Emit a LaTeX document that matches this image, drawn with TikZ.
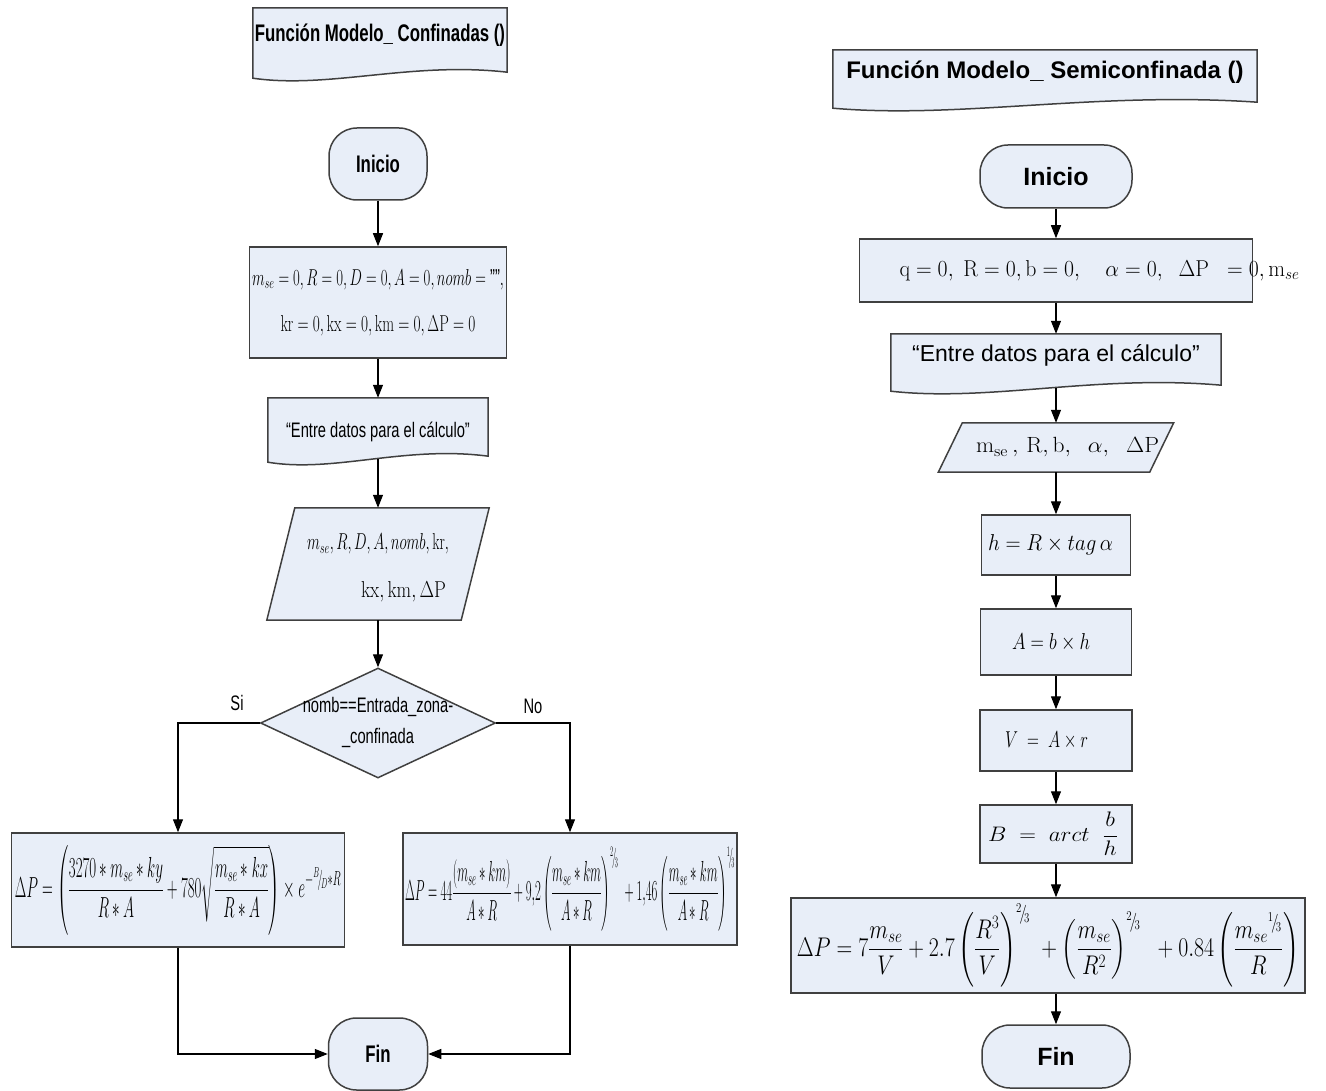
\RequirePackage{fix-cm}
\documentclass[tikz,border=0pt]{standalone}
\usepackage{amsmath}
\usepackage{graphicx}
\usepackage[no-math]{fontspec}
\setmainfont{Liberation Sans}
\newfontfamily\narrowsf[FakeStretch=0.7]{Liberation Sans}
\usetikzlibrary{shapes.geometric, arrows.meta, calc}
\definecolor{boxfill}{RGB}{232,238,248}
\definecolor{edgegray}{RGB}{64,64,64}
\pgfdeclarelayer{bg}
\pgfsetlayers{bg,main}
\newcommand{\hfit}[2]{\resizebox{#1}{\height}{#2}}
\newcommand{\slfrac}[2]{{}^{#1}\!/\!{}_{#2}}
% wavy document outline round a node
\newcommand{\docshape}[1]{%
  \begin{pgfonlayer}{bg}
    \path[flow] (#1.north west) -- (#1.north east) -- ($(#1.south east)+(0,3)$)
      .. controls ($(#1.south west)!0.62!(#1.south east)+(0,14)$)
      and ($(#1.south west)!0.3!(#1.south east)+(0,-14)$)
      .. ($(#1.south west)+(0,-3)$) -- cycle;
  \end{pgfonlayer}}
% slanted data outline round a node
\newcommand{\datashape}[2]{%
  \begin{pgfonlayer}{bg}
    \path[flow] (#1.south west) -- ($(#1.north west)+(#2,0)$) -- (#1.north east)
      -- ($(#1.south east)+(-#2,0)$) -- cycle;
  \end{pgfonlayer}}
\tikzset{
  flow/.style={draw=edgegray, line width=1.5pt, fill=boxfill},
  term/.style={flow, rectangle, rounded corners=28pt, inner sep=0pt},
  proc/.style={flow, rectangle, inner sep=0pt},
  docbox/.style={rectangle, inner sep=0pt},
  decis/.style={flow, diamond, inner sep=0pt},
  arr/.style={draw=black, line width=1.2pt, -{Triangle[length=13pt,width=10pt]}},
  narrowtxt/.style={font=\narrowsf\fontsize{21}{25}\selectfont},
  narrowbold/.style={font=\narrowsf\bfseries\fontsize{24}{28}\selectfont},
}

\begin{document}
\begin{tikzpicture}[x=1pt, y=1pt]
  \useasboundingbox (0,0) rectangle (1326,-1091);

  % Modelo confinadas
  \node[docbox, narrowbold, minimum width=254pt, minimum height=67pt] (hdrL) at (380,-41.5)
    {\raisebox{0pt}[0pt][0pt]{Función Modelo\_ Confinadas ()}};
  \docshape{hdrL}
  \node[term, narrowbold, minimum width=98pt, minimum height=72pt] (iniL) at (378,-164) {Inicio};
  \node[proc, minimum width=257pt, minimum height=111pt, align=center, font=\fontsize{23}{46}\selectfont] (varL) at (378,-302.5)
    {\hfit{252pt}{$m_{se}=0,R=0,D=0,A=0,nomb=\text{""},$}\\
     \hfit{195pt}{$\mathrm{kr}=0,\mathrm{kx}=0,\mathrm{km}=0,\Delta\mathrm{P}=0$}};
  \node[docbox, narrowtxt, minimum width=220pt, minimum height=61pt] (entL) at (378,-428.5)
    {\raisebox{-8.5pt}[0pt][0pt]{“Entre datos para el cálculo”}};
  \docshape{entL}
  \node[docbox, minimum width=222pt, minimum height=112pt, font=\fontsize{23}{48}\selectfont] (parL) at (378,-564)
    {\makebox[0pt]{\begin{tabular}{@{}l@{}}\hfit{142pt}{$m_{se},R,D,A,nomb,\mathrm{kr},$}\\
     \hspace*{54pt}\hfit{85pt}{$\mathrm{kx},\mathrm{km},\Delta\mathrm{P}$}\end{tabular}}};
  \datashape{parL}{28}
  \node[decis, narrowtxt, minimum width=235pt, minimum height=110pt] (dec) at (378,-723)
    {\makebox[0pt]{\begin{tabular}{@{}c@{}}nomb==Entrada\_zona-\\[6pt]\_confinada\end{tabular}}};
  \node[narrowtxt] (si) at (237,-703) {Si};
  \node[narrowtxt] (no) at (533,-706) {No};
  \node[proc, minimum width=333pt, minimum height=114pt, font=\fontsize{29}{34}\selectfont] (formL) at (178,-890)
    {\hfit{326pt}{$\displaystyle \Delta P=\left(\frac{3270*m_{se}*ky}{R*A}+780\sqrt{\frac{m_{se}*kx}{R*A}}\right)\times e^{-\slfrac{B}{D}*R}$}};
  \node[proc, minimum width=334pt, minimum height=112pt, font=\fontsize{29}{34}\selectfont] (formR) at (570,-889)
    {\hfit{330pt}{$\displaystyle \Delta P=44\frac{(m_{se}*km)}{A*R}+9{,}2\left(\frac{m_{se}*km}{A*R}\right)^{\slfrac{2}{3}}\ +1{,}46\left(\frac{m_{se}*km}{A*R}\right)^{\slfrac{1}{3}}$}};
  \node[term, narrowbold, minimum width=99pt, minimum height=72pt] (finL) at (378,-1054) {Fin};

  \draw[arr] (iniL) -- (varL);
  \draw[arr] (varL) -- (entL);
  \draw[arr] (entL) -- (parL);
  \draw[arr] (parL) -- (dec);
  \draw[arr] (dec.west) -| (formL);
  \draw[arr] (dec.east) -| (formR);
  \draw[arr] (formL) |- (finL);
  \draw[arr] (formR) |- (finL);

  % Modelo semiconfinada
  \node[docbox, minimum width=424pt, minimum height=55pt, font=\bfseries\fontsize{24}{28}\selectfont] (hdrR) at (1045,-77.5)
    {\raisebox{-1.5pt}[0pt][0pt]{Función Modelo\_ Semiconfinada ()}};
  \docshape{hdrR}
  \node[term, minimum width=152pt, minimum height=63pt, font=\bfseries\fontsize{25}{30}\selectfont] (iniR) at (1056,-176.5) {Inicio};
  \node[proc, minimum width=393pt, minimum height=63pt, font=\fontsize{23}{28}\selectfont] (varR) at (1056,-270.5)
    {\makebox[393pt][l]{\hspace*{40pt}\hfit{400pt}{$\mathrm{q}=0,\ \mathrm{R}=0,\mathrm{b}=0,\quad\alpha=0,\ \ \Delta\mathrm{P}\ \ =0,\mathrm{m}_{se}$}}};
  \node[docbox, minimum width=330pt, minimum height=54pt, font=\fontsize{23}{28}\selectfont] (entR) at (1056,-361)
    {\raisebox{-1pt}[0pt][0pt]{“Entre datos para el cálculo”}};
  \docshape{entR}
  \node[docbox, minimum width=235pt, minimum height=49pt, font=\fontsize{22}{26}\selectfont] (parR) at (1056,-447.5)
    {\makebox[0pt]{\hspace*{23pt}\hfit{183pt}{$\mathrm{m}_{\mathrm{se}}\,,\,\mathrm{R},\mathrm{b},\ \ \alpha,\ \ \Delta\mathrm{P}$}}};
  \datashape{parR}{24}
  \node[proc, minimum width=149pt, minimum height=60pt, font=\fontsize{23}{27}\selectfont] (hbox) at (1056,-545)
    {\makebox[0pt]{\hfit{125pt}{$h=R\times tag\,\alpha$}\hspace*{11pt}}};
  \node[proc, minimum width=151pt, minimum height=66pt, font=\fontsize{23}{27}\selectfont] (abox) at (1056,-642)
    {\makebox[0pt]{\hfit{78pt}{$A=b\times h$}\hspace*{10pt}}};
  \node[proc, minimum width=152pt, minimum height=61pt, font=\fontsize{23}{27}\selectfont] (vbox) at (1056,-740.5)
    {\makebox[0pt]{\hfit{83pt}{$V\;=\;A\times r$}\hspace*{19pt}}};
  \node[proc, minimum width=152pt, minimum height=58pt, font=\fontsize{21}{25}\selectfont] (bbox) at (1056,-834)
    {\makebox[0pt]{\hfit{130pt}{$B\;=\;arct\;\;\dfrac{b}{h}$}\hspace*{6pt}}};
  \node[proc, minimum width=514pt, minimum height=95pt, font=\fontsize{27}{32}\selectfont] (dpR) at (1048,-945.5)
    {\hfit{502pt}{$\displaystyle \Delta P=7\frac{m_{se}}{V}+2.7\left(\frac{R^3}{V}\right)^{\slfrac{2}{3}}\ +\left(\frac{m_{se}}{R^2}\right)^{\slfrac{2}{3}}\ \ +0.84\left(\frac{m_{se}{}^{\slfrac{1}{3}}}{R}\right)$}};
  \node[term, minimum width=148pt, minimum height=63pt, font=\bfseries\fontsize{25}{30}\selectfont] (finR) at (1056,-1056.5) {Fin};

  \draw[arr] (iniR) -- (varR);
  \draw[arr] (varR) -- (entR);
  \draw[arr] (entR) -- (parR);
  \draw[arr] (parR) -- (hbox);
  \draw[arr] (hbox) -- (abox);
  \draw[arr] (abox) -- (vbox);
  \draw[arr] (vbox) -- (bbox);
  \draw[arr] (bbox) -- (bbox |- dpR.north);
  \draw[arr] (finR |- dpR.south) -- (finR);
\end{tikzpicture}
\end{document}
